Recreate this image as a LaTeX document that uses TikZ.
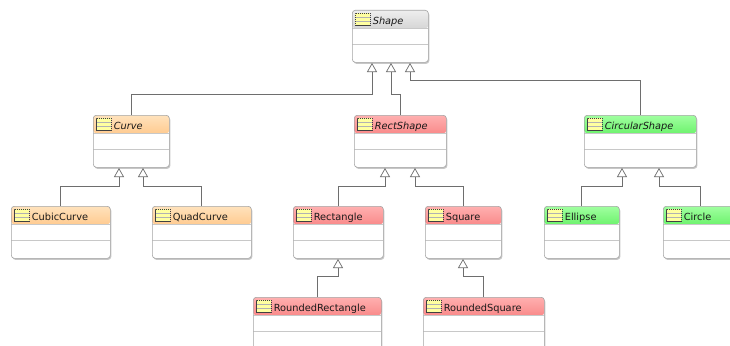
\documentclass[tikz,border=0pt]{standalone}
\usepackage{fontspec}
\setmainfont{DejaVu Sans}
\usetikzlibrary{arrows.meta,shadows}
\definecolor{bordergray}{HTML}{A4A4A4}
\definecolor{dividergray}{HTML}{C8C8C8}
\definecolor{linegray}{HTML}{6E6E6E}
\definecolor{iconyellow}{HTML}{FFFFA0}
\definecolor{graytop}{HTML}{EEEEEE}
\definecolor{graymid}{HTML}{CACACA}
\definecolor{graybot}{HTML}{A8A8A8}
\definecolor{orangetop}{HTML}{FFE2BC}
\definecolor{orangemid}{HTML}{FFBC70}
\definecolor{orangebot}{HTML}{FFA040}
\definecolor{redtop}{HTML}{FFB0B0}
\definecolor{redmid}{HTML}{F66A6A}
\definecolor{redbot}{HTML}{EE4444}
\definecolor{greentop}{HTML}{A0FFA0}
\definecolor{greenmid}{HTML}{38F038}
\definecolor{greenbot}{HTML}{10DC10}
\tikzset{
  classbox/.style={anchor=north west, rectangle, rounded corners=3pt,
    draw=bordergray, fill=white, line width=0.6pt, inner sep=0pt,
    minimum height=52pt,
    drop shadow={shadow xshift=1pt, shadow yshift=-1.5pt, fill=black, opacity=0.22}},
  header/.style={path picture={
    \shade[top color=#1top, middle color=#1mid, bottom color=#1bot]
      (path picture bounding box.north west) rectangle
      ([yshift=-18pt]path picture bounding box.north east);
    \draw[dividergray, line width=0.6pt]
      ([yshift=-18pt]path picture bounding box.north west) --
      ([yshift=-18pt]path picture bounding box.north east);
    \draw[dividergray, line width=0.8pt]
      ([yshift=-34pt]path picture bounding box.north west) --
      ([yshift=-34pt]path picture bounding box.north east);}},
  classicon/.style={anchor=north west, rectangle, inner sep=0pt,
    minimum width=15pt, minimum height=12pt, fill=iconyellow,
    draw=black!75, line width=0.6pt, dash pattern=on 1.2pt off 0.8pt,
    path picture={
      \draw[black!30, line width=0.4pt]
        ([yshift=-4pt]path picture bounding box.north west) --
        ([yshift=-4pt]path picture bounding box.north east);
      \draw[black!30, line width=0.4pt]
        ([yshift=4pt]path picture bounding box.south west) --
        ([yshift=4pt]path picture bounding box.south east);}},
  classlabel/.style={anchor=base west, inner sep=0pt,
    font=\fontsize{9.8}{11}\selectfont, text=black!90},
  gen/.style={draw=linegray, line width=0.7pt,
    -{Triangle[open, length=9pt, width=10pt]}}
}
\newcommand\umlclass[6]{%
  \node[classbox, minimum width=#4pt, header=#5] (#1) at (#2,#3) {};
  \node[classicon] (#1-icon) at ([xshift=3pt,yshift=-3pt]#1.north west) {};
  \node[classlabel] (#1-label) at ([xshift=2pt,yshift=1.5pt]#1-icon.south east) {#6};
}
\begin{document}
\begin{tikzpicture}[x=1pt, y=-1pt]
  \useasboundingbox (0,0) rectangle (730,345);
  \clip (0,0) rectangle (730,345);
  \fill[white] (0,0) rectangle (730,345);

  \umlclass{shape}{352}{10}{76}{gray}{\itshape Shape}
  \umlclass{curve}{93}{115}{76}{orange}{\itshape Curve}
  \umlclass{rectshape}{354}{115}{92}{red}{\itshape RectShape}
  \umlclass{circular}{584}{115}{112}{green}{\itshape CircularShape}
  \umlclass{cubic}{11}{206}{99}{orange}{CubicCurve}
  \umlclass{quad}{152}{206}{99}{orange}{QuadCurve}
  \umlclass{rectangle}{293}{206}{90}{red}{Rectangle}
  \umlclass{square}{425}{206}{76}{red}{Square}
  \umlclass{ellipse}{544}{206}{75}{green}{Ellipse}
  \umlclass{circle}{663}{206}{75}{green}{Circle}
  \umlclass{roundrect}{253}{297}{128}{red}{RoundedRectangle}
  \umlclass{roundsquare}{423}{297}{121}{red}{RoundedSquare}

  \coordinate (shape-t1) at (372,63);
  \coordinate (shape-t2) at (391,63);
  \coordinate (shape-t3) at (410,63);
  \coordinate (curve-t1) at (119,168);
  \coordinate (curve-t2) at (143,168);
  \coordinate (rect-t1) at (385,168);
  \coordinate (rect-t2) at (415,168);
  \coordinate (circ-t1) at (622,168);
  \coordinate (circ-t2) at (659,168);
  \coordinate (rectangle-t) at (338,259);
  \coordinate (square-t) at (463,259);

  \draw[gen] (curve.north) -- ++(0,-21) -| (shape-t1);
  \draw[gen] (rectshape.north) -- ++(0,-21) -| (shape-t2);
  \draw[gen] (circular.north) -- ++(0,-35) -| (shape-t3);
  \draw[gen] (cubic.north) -- ++(0,-20) -| (curve-t1);
  \draw[gen] (quad.north) -- ++(0,-20) -| (curve-t2);
  \draw[gen] (rectangle.north) -- ++(0,-20) -| (rect-t1);
  \draw[gen] (square.north) -- ++(0,-20) -| (rect-t2);
  \draw[gen] (ellipse.north) -- ++(0,-20) -| (circ-t1);
  \draw[gen] (circle.north) -- ++(0,-20) -| (circ-t2);
  \draw[gen] (roundrect.north) -- ++(0,-21) -| (rectangle-t);
  \draw[gen] (roundsquare.north) -- ++(0,-21) -| (square-t);
\end{tikzpicture}
\end{document}
